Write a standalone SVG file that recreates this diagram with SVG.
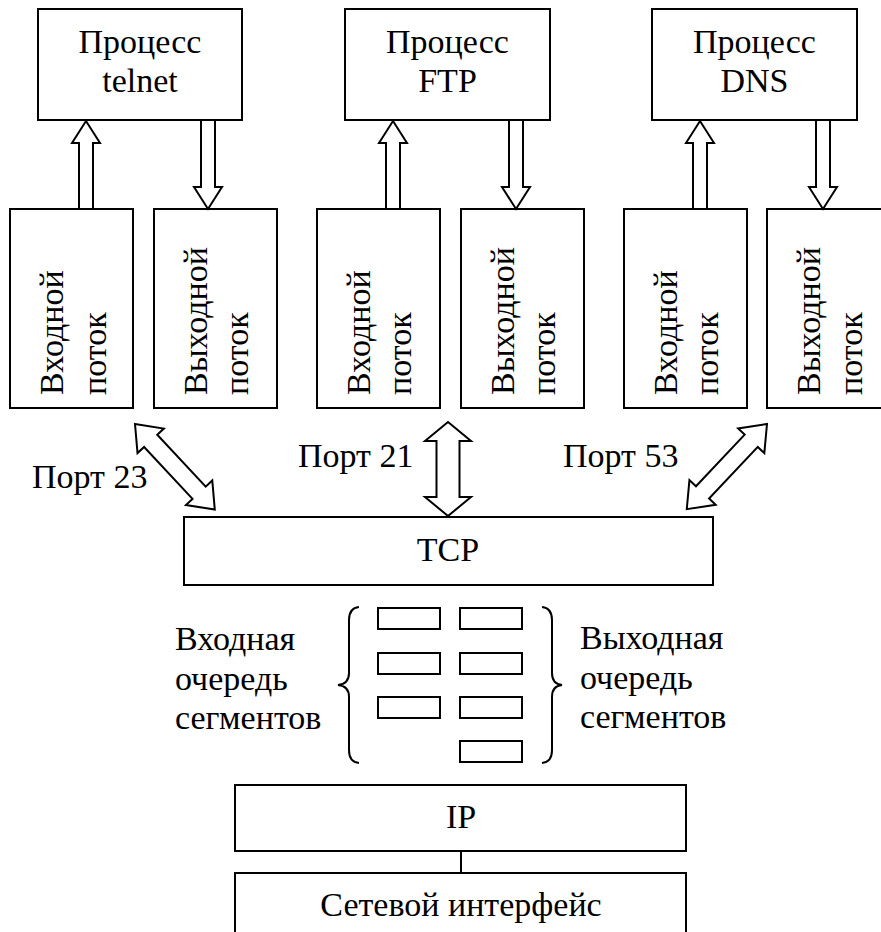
<svg xmlns="http://www.w3.org/2000/svg" width="881" height="932" viewBox="0 0 881 932">
<defs>
<polygon id="upArrow" points="0,0 14,22 7,22 7,88 -7,88 -7,22 -14,22"/>
<polygon id="downArrow" points="0,0 14,-22 7,-22 7,-89 -7,-89 -7,-22 -14,-22"/>
</defs>
<rect width="881" height="932" fill="#fff"/>
<g fill="#fff" stroke="#000" stroke-width="2">
<g id="proc-telnet"><rect x="38" y="9" width="204" height="111"/></g>
<g id="proc-ftp"><rect x="345" y="9" width="205" height="111"/></g>
<g id="proc-dns"><rect x="652" y="9" width="205" height="111"/></g>
<g id="in-telnet"><rect x="10" y="209" width="123" height="199"/></g>
<g id="out-telnet"><rect x="154" y="209" width="123" height="199"/></g>
<g id="in-ftp"><rect x="317" y="209" width="123" height="199"/></g>
<g id="out-ftp"><rect x="461" y="209" width="123" height="199"/></g>
<g id="in-dns"><rect x="624" y="209" width="123" height="199"/></g>
<g id="out-dns"><rect x="767" y="209" width="123" height="199"/></g>
<g id="tcp"><rect x="184" y="517" width="529" height="68"/></g>
<g id="queues">
<path fill="none" d="M359,607 Q349,608 349,620 L349,673 Q349,684 338,685 Q349,686 349,697 L349,750 Q349,762 359,763"/>
<path fill="none" d="M542,607 Q552,608 552,620 L552,673 Q552,684 562,685 Q552,686 552,697 L552,750 Q552,762 542,763"/>
<rect x="378" y="608" width="62" height="21"/>
<rect x="378" y="653" width="62" height="21"/>
<rect x="378" y="697" width="62" height="21"/>
<rect x="460" y="608" width="62" height="21"/>
<rect x="460" y="653" width="62" height="21"/>
<rect x="460" y="697" width="62" height="21"/>
<rect x="460" y="741" width="62" height="21"/>
</g>
<g id="ip"><rect x="235" y="785" width="451" height="66"/></g>
<g id="netif"><rect x="235" y="873" width="451" height="80"/></g>
<g id="connectors">
<use href="#upArrow" x="86" y="121"/>
<use href="#downArrow" x="208" y="209"/>
<use href="#upArrow" x="393" y="121"/>
<use href="#downArrow" x="516" y="209"/>
<use href="#upArrow" x="700" y="121"/>
<use href="#downArrow" x="823" y="209"/>
<polygon points="448,422 471,441 459.5,441 459.5,497 471,497 448,516 425,497 436.5,497 436.5,441 425,441"/>
<polygon transform="translate(135,424) rotate(47)" points="0,0 23,-18 23,-9 94,-9 94,-18 117,0 94,18 94,9 23,9 23,18"/>
<polygon transform="translate(767,424) rotate(133.3)" points="0,0 23,-18 23,-9 94,-9 94,-18 117,0 94,18 94,9 23,9 23,18"/>
<line x1="461" y1="851" x2="461" y2="873"/>
</g>
</g>
<text x="140" y="53" font-family="Liberation Serif" font-size="34" text-anchor="middle">Процесс</text>
<text x="140" y="92" font-family="Liberation Serif" font-size="34" text-anchor="middle">telnet</text>
<text x="447.5" y="53" font-family="Liberation Serif" font-size="34" text-anchor="middle">Процесс</text>
<text x="447.5" y="92" font-family="Liberation Serif" font-size="34" text-anchor="middle">FTP</text>
<text x="754.5" y="53" font-family="Liberation Serif" font-size="34" text-anchor="middle">Процесс</text>
<text x="754.5" y="92" font-family="Liberation Serif" font-size="34" text-anchor="middle">DNS</text>
<text transform="translate(63,395) rotate(-90)" font-family="Liberation Serif" font-size="34">Входной</text>
<text transform="translate(106,395) rotate(-90)" font-family="Liberation Serif" font-size="34">поток</text>
<text transform="translate(207,395) rotate(-90)" font-family="Liberation Serif" font-size="34">Выходной</text>
<text transform="translate(248,395) rotate(-90)" font-family="Liberation Serif" font-size="34">поток</text>
<text transform="translate(370,395) rotate(-90)" font-family="Liberation Serif" font-size="34">Входной</text>
<text transform="translate(411,395) rotate(-90)" font-family="Liberation Serif" font-size="34">поток</text>
<text transform="translate(514,395) rotate(-90)" font-family="Liberation Serif" font-size="34">Выходной</text>
<text transform="translate(555,395) rotate(-90)" font-family="Liberation Serif" font-size="34">поток</text>
<text transform="translate(677,395) rotate(-90)" font-family="Liberation Serif" font-size="34">Входной</text>
<text transform="translate(718,395) rotate(-90)" font-family="Liberation Serif" font-size="34">поток</text>
<text transform="translate(820,395) rotate(-90)" font-family="Liberation Serif" font-size="34">Выходной</text>
<text transform="translate(862,395) rotate(-90)" font-family="Liberation Serif" font-size="34">поток</text>
<text x="448" y="561" font-family="Liberation Serif" font-size="34" text-anchor="middle">TCP</text>
<text x="175" y="650" font-family="Liberation Serif" font-size="34">Входная</text>
<text x="175" y="690" font-family="Liberation Serif" font-size="34">очередь</text>
<text x="175" y="729" font-family="Liberation Serif" font-size="34">сегментов</text>
<text x="580" y="649" font-family="Liberation Serif" font-size="34">Выходная</text>
<text x="580" y="689" font-family="Liberation Serif" font-size="34">очередь</text>
<text x="580" y="728" font-family="Liberation Serif" font-size="34">сегментов</text>
<text x="461" y="828" font-family="Liberation Serif" font-size="34" text-anchor="middle">IP</text>
<text x="461" y="916" font-family="Liberation Serif" font-size="34" text-anchor="middle">Сетевой интерфейс</text>
<text x="32" y="488" font-family="Liberation Serif" font-size="34">Порт 23</text>
<text x="298" y="467" font-family="Liberation Serif" font-size="34">Порт 21</text>
<text x="563" y="467" font-family="Liberation Serif" font-size="34">Порт 53</text>
</svg>
